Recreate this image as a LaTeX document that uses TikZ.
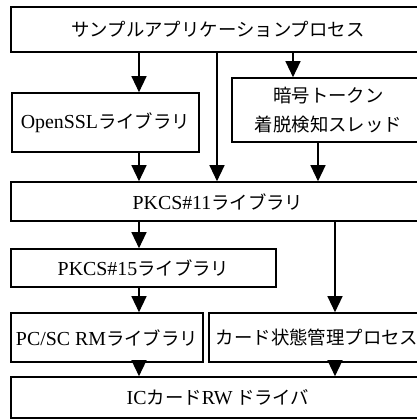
\documentclass[tikz,border=0pt]{standalone}
\usepackage{fontspec}
\setmainfont[Scale=1.08]{Liberation Serif}
\newfontfamily\cjk{Noto Sans CJK JP}
\usetikzlibrary{arrows.meta}
\tikzset{
  box/.style={draw, line width=1.6pt, inner sep=0pt, align=center, font=\fontsize{18.4}{29}\selectfont},
  arr/.style={line width=1.3pt, -{Triangle[width=15pt,length=16pt]}},
}
\begin{document}
\begin{tikzpicture}[x=1pt,y=-1pt]
\useasboundingbox (0,0) rectangle (416,419);
\node[box, minimum width=414pt, minimum height=45pt] (top) at (218,29.5) {\cjk サンプルアプリケーションプロセス};
\node[box, minimum width=187pt, minimum height=59pt] (ssl) at (105.5,122.5) {OpenSSL{\cjk ライブラリ}};
\node[box, minimum width=193pt, minimum height=64pt] (cry) at (328.5,110) {\cjk 暗号トークン\\\cjk 着脱検知スレッド};
\node[box, minimum width=414pt, minimum height=39pt] (p11) at (218,201.5) {PKCS\#11{\cjk ライブラリ}};
\node[box, minimum width=265pt, minimum height=38pt] (p15) at (143.5,268) {PKCS\#15{\cjk ライブラリ}};
\node[box, minimum width=192pt, minimum height=49pt] (pcsc) at (107,337.5) {PC/SC RM{\cjk ライブラリ}};
\node[box, minimum width=216pt, minimum height=49pt] (card) at (317,337.5) {\cjk カード状態管理プロセス};
\node[box, minimum width=414pt, minimum height=41pt] (ic) at (218,397.5) {IC{\cjk カード}RW\,{\cjk ドライバ}};
\coordinate (c1) at (139,0);
\coordinate (c2) at (217,0);
\coordinate (c3) at (293,0);
\coordinate (c4) at (318,0);
\coordinate (c5) at (335,0);
\draw[arr] (top.south -| c1) -- (ssl.north -| c1);
\draw[arr] (top.south -| c2) -- (p11.north -| c2);
\draw[arr] (top.south -| c3) -- (cry.north -| c3);
\draw[arr] (ssl.south -| c1) -- (p11.north -| c1);
\draw[arr] (cry.south -| c4) -- (p11.north -| c4);
\draw[arr] (p11.south -| c1) -- (p15.north -| c1);
\draw[arr] (p11.south -| c5) -- (card.north -| c5);
\draw[arr] (p15.south -| c1) -- (pcsc.north -| c1);
\draw[arr] (pcsc.south -| c1) -- (ic.north -| c1);
\draw[arr] (card.south -| c5) -- (ic.north -| c5);
\end{tikzpicture}
\end{document}
